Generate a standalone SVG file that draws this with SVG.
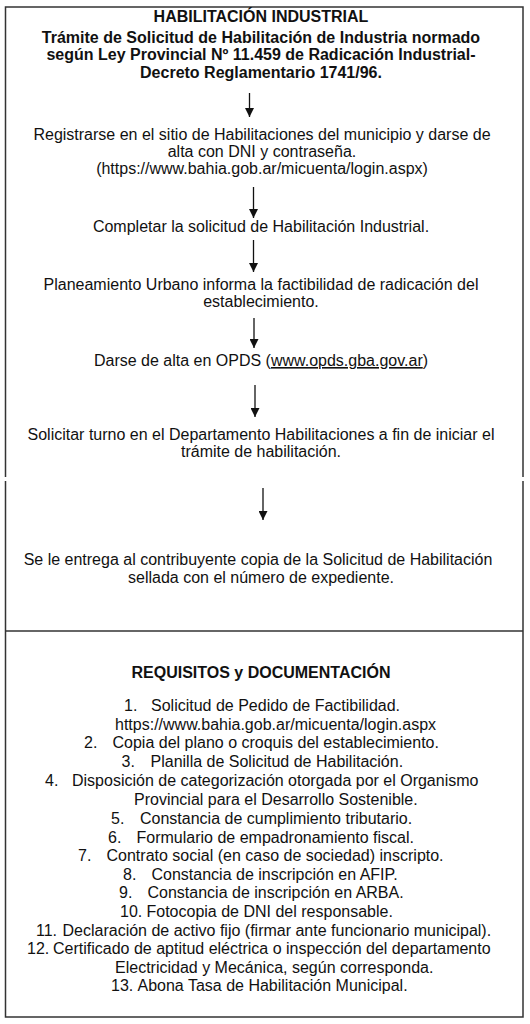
<svg xmlns="http://www.w3.org/2000/svg" width="530" height="1024" viewBox="0 0 530 1024">
<defs>
<marker id="ah" viewBox="0 0 10 10" refX="10" refY="5" markerWidth="9" markerHeight="9" markerUnits="userSpaceOnUse" orient="auto">
<path d="M0,0 L10,5 L0,10 z" fill="#111"/>
</marker>
<style>
text{font-family:"Liberation Sans",Arial,sans-serif;font-size:16px;fill:#111}
.c{text-anchor:middle}
.b{font-weight:bold}
.frame{fill:none;stroke:#333;stroke-width:1.5}
.arr{stroke:#111;stroke-width:1.3;fill:none;marker-end:url(#ah)}
</style>
</defs>
<rect width="530" height="1024" fill="#fff"/>
<g id="frame">
<path class="frame" d="M5.5,477 V7 H523 V477"/>
<path class="frame" d="M5.5,481 V1017 H523 V481"/>
<line class="frame" x1="5.5" y1="631" x2="523" y2="631"/>
</g>
<g id="title">
<text class="c b" x="261" y="22">HABILITACIÓN INDUSTRIAL</text>
<text class="c b" x="261" y="42.5">Trámite de Solicitud de Habilitación de Industria normado</text>
<text class="c b" x="261" y="60">según Ley Provincial Nº 11.459 de Radicación Industrial-</text>
<text class="c b" x="261" y="77.5">Decreto Reglamentario 1741/96.</text>
</g>
<g id="step1">
<text class="c" x="262" y="139.5">Registrarse en el sitio de Habilitaciones del municipio y darse de</text>
<text class="c" x="262" y="156.5">alta con DNI y contraseña.</text>
<text class="c" x="262" y="173.5">(https://www.bahia.gob.ar/micuenta/login.aspx)</text>
</g>
<g id="step2">
<text class="c" x="261" y="231.5">Completar la solicitud de Habilitación Industrial.</text>
</g>
<g id="step3">
<text class="c" x="261" y="290">Planeamiento Urbano informa la factibilidad de radicación del</text>
<text class="c" x="261" y="307">establecimiento.</text>
</g>
<g id="step4">
<text class="c" x="261" y="366">Darse de alta en OPDS (<tspan text-decoration="underline">www.opds.gba.gov.ar</tspan>)</text>
</g>
<g id="step5">
<text class="c" x="261" y="440">Solicitar turno en el Departamento Habilitaciones a fin de iniciar el</text>
<text class="c" x="261" y="457">trámite de habilitación.</text>
</g>
<g id="step6">
<text class="c" x="258" y="565">Se le entrega al contribuyente copia de la Solicitud de Habilitación</text>
<text class="c" x="261" y="583">sellada con el número de expediente.</text>
</g>
<g id="connectors">
<line class="arr" x1="249.5" y1="93" x2="249.5" y2="117"/>
<line class="arr" x1="253.5" y1="187" x2="253.5" y2="218"/>
<line class="arr" x1="253.5" y1="240" x2="253.5" y2="272"/>
<line class="arr" x1="254" y1="318" x2="254" y2="348"/>
<line class="arr" x1="255" y1="385" x2="255" y2="417"/>
<line class="arr" x1="263" y1="488" x2="263" y2="520"/>
</g>
<g id="requirements">
<text class="c b" x="261" y="677.5">REQUISITOS y DOCUMENTACIÓN</text>
<text x="124" y="711">1.</text><text x="151" y="711">Solicitud de Pedido de Factibilidad.</text>
<text x="115" y="729.5">https://www.bahia.gob.ar/micuenta/login.aspx</text>
<text x="84" y="748">2.</text><text x="112.5" y="748">Copia del plano o croquis del establecimiento.</text>
<text x="121.5" y="767">3.</text><text x="150.5" y="767">Planilla de Solicitud de Habilitación.</text>
<text x="45" y="786">4.</text><text x="72" y="786">Disposición de categorización otorgada por el Organismo</text>
<text x="134" y="805">Provincial para el Desarrollo Sostenible.</text>
<text x="111" y="824">5.</text><text x="140" y="824">Constancia de cumplimiento tributario.</text>
<text x="108" y="842.5">6.</text><text x="136.5" y="842.5">Formulario de empadronamiento fiscal.</text>
<text x="78" y="861">7.</text><text x="106.5" y="861">Contrato social (en caso de sociedad) inscripto.</text>
<text x="123" y="879.5">8.</text><text x="151.5" y="879.5">Constancia de inscripción en AFIP.</text>
<text x="119" y="898">9.</text><text x="147.5" y="898">Constancia de inscripción en ARBA.</text>
<text x="120" y="916.5">10.</text><text x="146.5" y="916.5">Fotocopia de DNI del responsable.</text>
<text x="36" y="935.5">11.</text><text x="62.5" y="935.5">Declaración de activo fijo (firmar ante funcionario municipal).</text>
<text x="27" y="954">12.</text><text x="53" y="954">Certificado de aptitud eléctrica o inspección del departamento</text>
<text x="115" y="972.5">Electricidad y Mecánica, según corresponda.</text>
<text x="111" y="991">13.</text><text x="137.5" y="991">Abona Tasa de Habilitación Municipal.</text>
</g>
</svg>
